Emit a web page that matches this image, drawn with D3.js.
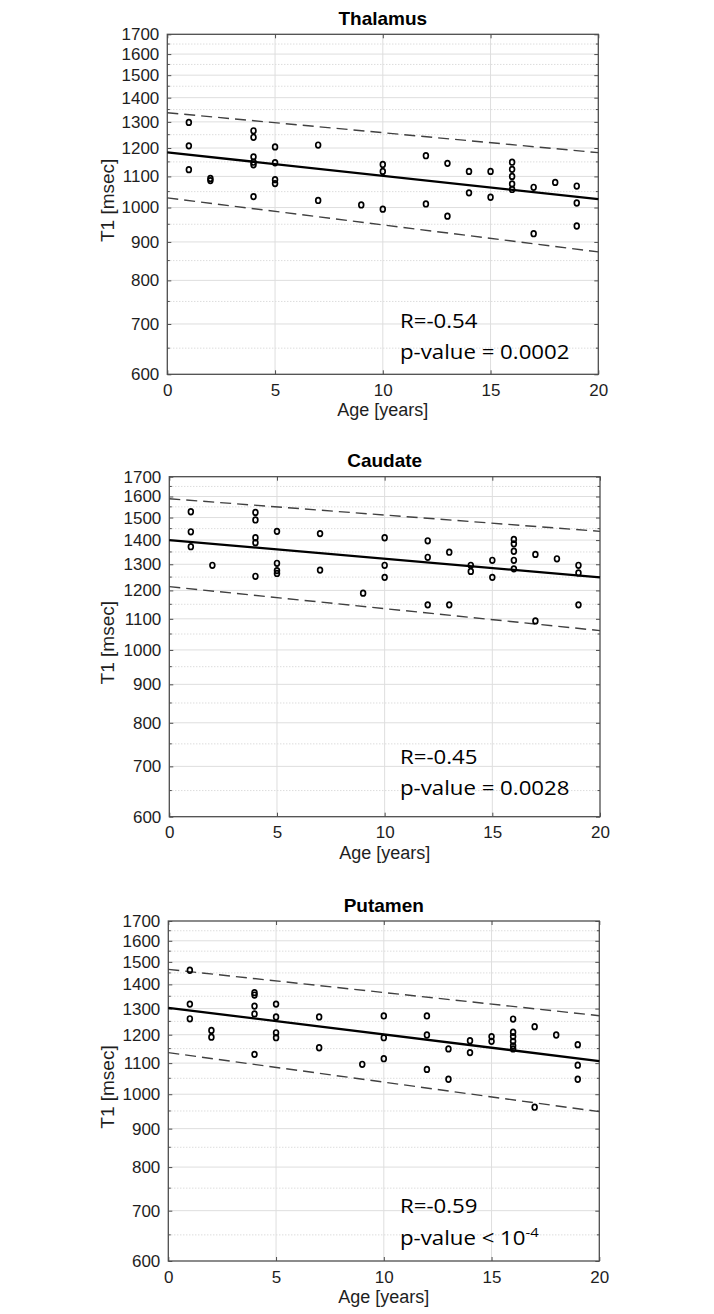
<!DOCTYPE html>
<html>
<head>
<meta charset="utf-8">
<script src="https://cdn.jsdelivr.net/npm/d3@7"></script>
<style>
  html, body { margin: 0; padding: 0; background: #fff; }
  svg { display: block; }
</style>
</head>
<body>
<svg id="chart" width="714" height="1314"></svg>
<script>
// ---------------- data ----------------
const titles = ["Thalamus", "Caudate", "Putamen"];
const xTicks = [0, 5, 10, 15, 20];
const yTicks = [600, 700, 800, 900, 1000, 1100, 1200, 1300, 1400, 1500, 1600, 1700];
const yMinorTicks = [650, 750, 850, 950, 1050, 1150, 1250, 1350, 1450, 1550, 1650];
const fitAges = [0, 20];

const thalamusAge = [1,1,1, 2,2, 4,4,4,4,4,4, 5,5,5,5, 7,7, 9, 10,10,10, 12,12, 13,13, 14,14, 15,15, 16,16,16,16,16, 17,17, 18, 19,19,19];
const thalamusT1  = [1298,1208,1123, 1093,1086, 1265,1240,1168,1149,1140,1034, 1204,1147,1089,1076, 1211,1022, 1008, 1141,1117,995, 1172,1011, 1145,974, 1117,1046, 1117,1032, 1149,1124,1100,1075,1057, 1064,923, 1080, 1068,1014,945];
const thalamusFit   = [1184, 1026];
const thalamusUpper = [1337, 1183];
const thalamusLower = [1030, 873];

const caudateAge = [1,1,1, 2, 4,4,4,4,4, 5,5,5,5, 7,7, 9, 10,10,10, 12,12,12, 13,13, 14,14, 15,15, 16,16,16,16,16, 17,17, 18, 19,19,19];
const caudateT1  = [1527,1436,1372, 1296, 1524,1489,1410,1389,1253, 1438,1304,1275,1264, 1428,1277, 1190, 1410,1296,1249, 1397,1328,1148, 1349,1148, 1296,1272, 1316,1249, 1403,1384,1353,1316,1282, 1340,1093, 1322, 1296,1266,1148];
const caudateFit   = [1400, 1249];
const caudateUpper = [1589, 1438];
const caudateLower = [1214, 1061];

const putamenAge = [1,1,1, 2,2, 4,4,4,4,4, 5,5,5,5, 7,7, 9, 10,10,10, 12,12,12, 13,13, 14,14, 15,15, 16,16,16,16,16,16, 17,17, 18, 19,19,19];
const putamenT1  = [1462,1318,1260, 1216,1191, 1365,1355,1310,1279,1130, 1318,1267,1207,1189, 1267,1153, 1096, 1271,1189,1115, 1271,1199,1079, 1149,1047, 1178,1136, 1193,1176, 1259,1209,1193,1176,1160,1149, 1230,961, 1199, 1164,1093,1047];
const putamenFit   = [1303, 1107];
const putamenUpper = [1466, 1272];
const putamenLower = [1136, 948];

const rValues = ["R=-0.54", "R=-0.45", "R=-0.59"];
const pTexts  = ["p-value = 0.0002", "p-value = 0.0028", "p-value < 10"];
const pSup    = ["", "", "-4"];

// ---------------- layout ----------------
const panels = [
  { L: 167.3, R: 598.3, T: 34.3,  B: 374.3, age: thalamusAge, t1: thalamusT1, fit: thalamusFit, up: thalamusUpper, lo: thalamusLower, rDy: -46, pDy: -15 },
  { L: 169.3, R: 600.0, T: 476.7, B: 816.7, age: caudateAge,  t1: caudateT1,  fit: caudateFit,  up: caudateUpper,  lo: caudateLower,  rDy: -53, pDy: -22 },
  { L: 168.3, R: 599.3, T: 921.0, B: 1261.0, age: putamenAge, t1: putamenT1,  fit: putamenFit,  up: putamenUpper,  lo: putamenLower,  rDy: -48, pDy: -16 }
];

const svg = d3.select("#chart");
const axisColor = "#4d4d4d";
const textColor = "#1e1e1e";
const sansFont = "'Liberation Sans', Arial, Helvetica, sans-serif";

panels.forEach((p, i) => {
  const x = d3.scaleLinear().domain([0, 20]).range([p.L, p.R]);
  const y = d3.scaleLog().domain([600, 1700]).range([p.B, p.T]);
  const g = svg.append("g");

  // minor dotted grid
  g.selectAll(".ming").data(yMinorTicks).join("line")
    .attr("x1", p.L).attr("x2", p.R)
    .attr("y1", d => y(d)).attr("y2", d => y(d))
    .attr("stroke", "#c8c8c8").attr("stroke-width", 0.9).attr("stroke-dasharray", "1,2");
  // major grid
  g.selectAll(".majg").data(yTicks.slice(1, -1)).join("line")
    .attr("x1", p.L).attr("x2", p.R)
    .attr("y1", d => y(d)).attr("y2", d => y(d))
    .attr("stroke", "#dedede").attr("stroke-width", 1);
  g.selectAll(".xg").data(xTicks.slice(1, -1)).join("line")
    .attr("x1", d => x(d)).attr("x2", d => x(d))
    .attr("y1", p.T).attr("y2", p.B)
    .attr("stroke", "#dedede").attr("stroke-width", 1);

  // axes via d3.axis (inward ticks)
  const yAxisL = d3.axisLeft(y).tickValues(yTicks).tickFormat(d3.format("d")).tickSize(-4).tickPadding(8);
  const gyl = g.append("g").attr("transform", `translate(${p.L},0)`).call(yAxisL);
  gyl.select(".domain").remove();
  gyl.selectAll("line").attr("stroke", axisColor);
  gyl.selectAll("text").attr("font-family", sansFont).attr("font-size", 17).attr("fill", textColor);

  const yAxisR = d3.axisRight(y).tickValues(yTicks).tickFormat("").tickSize(-4);
  const gyr = g.append("g").attr("transform", `translate(${p.R},0)`).call(yAxisR);
  gyr.select(".domain").remove();
  gyr.selectAll("line").attr("stroke", axisColor);

  // minor ticks
  [[p.L, 2.5], [p.R, -2.5]].forEach(([x0, len]) => {
    g.selectAll(null).data(yMinorTicks).join("line")
      .attr("x1", x0).attr("x2", x0 + len)
      .attr("y1", d => y(d)).attr("y2", d => y(d))
      .attr("stroke", axisColor).attr("stroke-width", 1);
  });

  const xAxisB = d3.axisBottom(x).tickValues(xTicks).tickFormat(d3.format("d")).tickSize(-4).tickPadding(9.5);
  const gxb = g.append("g").attr("transform", `translate(0,${p.B})`).call(xAxisB);
  gxb.select(".domain").remove();
  gxb.selectAll("line").attr("stroke", axisColor);
  gxb.selectAll("text").attr("font-family", sansFont).attr("font-size", 17).attr("fill", textColor);

  const xAxisT = d3.axisTop(x).tickValues(xTicks).tickFormat("").tickSize(-4);
  const gxt = g.append("g").attr("transform", `translate(0,${p.T})`).call(xAxisT);
  gxt.select(".domain").remove();
  gxt.selectAll("line").attr("stroke", axisColor);

  // box
  g.append("rect").attr("x", p.L).attr("y", p.T)
    .attr("width", p.R - p.L).attr("height", p.B - p.T)
    .attr("fill", "none").attr("stroke", axisColor).attr("stroke-width", 1.3);

  // fit lines
  const line = d3.line().x(d => x(d[0])).y(d => y(d[1]));
  const mk = arr => fitAges.map((a, k) => [a, arr[k]]);
  g.append("path").attr("d", line(mk(p.up))).attr("fill", "none")
    .attr("stroke", "#404040").attr("stroke-width", 1.4).attr("stroke-dasharray", "11,6");
  g.append("path").attr("d", line(mk(p.lo))).attr("fill", "none")
    .attr("stroke", "#404040").attr("stroke-width", 1.4).attr("stroke-dasharray", "11,6");
  g.append("path").attr("d", line(mk(p.fit))).attr("fill", "none")
    .attr("stroke", "#000").attr("stroke-width", 2.3);

  // points
  g.selectAll(".pt").data(p.age.map((a, k) => [a, p.t1[k]])).join("ellipse")
    .attr("cx", d => x(d[0])).attr("cy", d => y(d[1]))
    .attr("rx", 2.4).attr("ry", 2.8)
    .attr("fill", "none").attr("stroke", "#000").attr("stroke-width", 1.7);

  // title
  g.append("text").attr("x", (p.L + p.R) / 2).attr("y", p.T - 9.5)
    .attr("text-anchor", "middle").attr("font-family", sansFont)
    .attr("font-weight", "bold").attr("font-size", 19).attr("fill", "#000")
    .text(titles[i]);

  // axis labels
  g.append("text").attr("x", (p.L + p.R) / 2).attr("y", p.B + 42)
    .attr("text-anchor", "middle").attr("font-family", sansFont)
    .attr("font-size", 18).attr("fill", textColor).text("Age [years]");
  g.append("text")
    .attr("transform", `translate(114,${(p.T + p.B) / 2 - 4}) rotate(-90)`)
    .attr("text-anchor", "middle").attr("font-family", sansFont)
    .attr("font-size", 19).attr("fill", textColor).text("T1 [msec]");

  // annotations
  const ann = g.append("g").attr("font-family", "'Open Sans', sans-serif").attr("font-size", 19.5).attr("fill", "#000");
  ann.append("text").attr("transform", `translate(400,${p.B + p.rDy}) scale(1.14,1)`).text(rValues[i]);
  const pt = ann.append("text").attr("transform", `translate(400,${p.B + p.pDy}) scale(1.14,1)`);
  pt.append("tspan").text(pTexts[i]);
  if (pSup[i]) {
    pt.append("tspan").attr("font-size", 13).attr("dy", -8).text(pSup[i]);
  }
});
</script>
</body>
</html>
